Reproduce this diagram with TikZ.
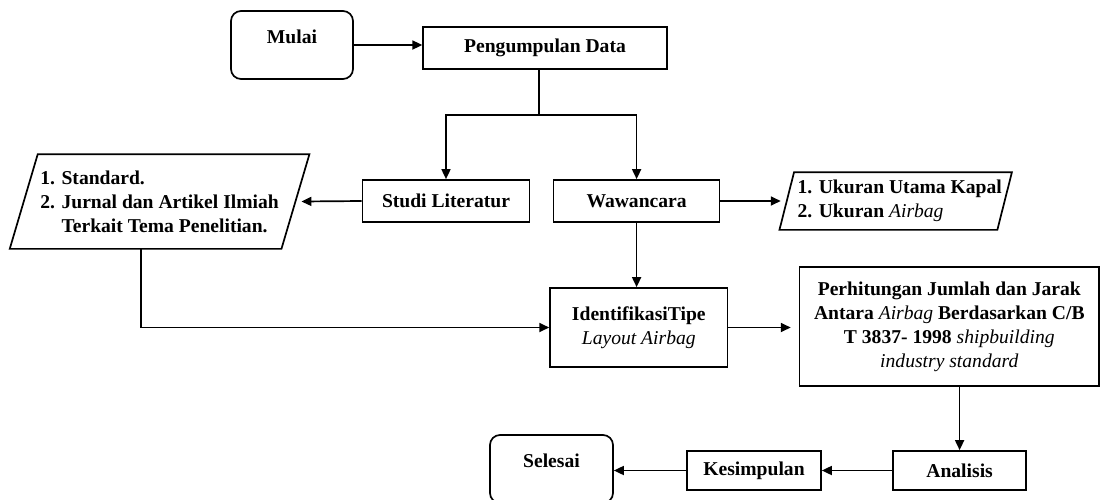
\documentclass[tikz,border=0pt]{standalone}
\usepackage{fontspec}
\setmainfont{Liberation Serif}
\usepackage{tikz}
\usetikzlibrary{arrows.meta}
\usetikzlibrary{positioning}
\newcommand{\itx}[1]{\textmd{\textit{#1}}}
\newcommand{\jajar}[2]{\draw ([xshift=#2]#1.north west) -- ([xshift=#2]#1.north east)
  -- ([xshift=-#2]#1.south east) -- ([xshift=-#2]#1.south west) -- cycle;}

\begin{document}
\begin{tikzpicture}[x=0.5pt,y=-0.5pt,line width=0.85pt,
    font=\bfseries\fontsize{9.8}{12}\selectfont,
    arr/.style={-{Triangle[length=5pt,width=4.5pt]}},
    terminal/.style={draw,rounded corners=5pt,minimum height=34pt,text height=7pt,text depth=9pt},
    proses/.style={draw,rectangle,align=center,inner sep=2pt},
    io/.style={rectangle,align=left,inner sep=1pt}]
  \useasboundingbox (0,0) rectangle (1105,499);

  \node[terminal,minimum width=61pt]                      (mulai)    at (292,45)      {Mulai};
  \node[proses,minimum width=121.8pt,minimum height=21pt] (data)     at (545,48)      {Pengumpulan Data};
  \node[proses,minimum width=83.5pt,minimum height=21pt]  (studi)    at (446,201)     {Studi Literatur};
  \node[proses,minimum width=83pt,minimum height=21pt]    (wawan)    at (636.6,201)   {Wawancara};
  \node[io,minimum width=135pt,minimum height=46.5pt]     (lit)      at (159.6,201.5)
       {1. Standard.\\2. Jurnal dan Artikel Ilmiah\\\phantom{2. }Terkait Tema Penelitian.};
  \node[io,minimum width=104.7pt,minimum height=28pt]     (ukuran)   at (895.7,201)
       {\hspace*{4pt}1. Ukuran Utama Kapal\\\hspace*{4pt}2. Ukuran \itx{Airbag}};
  \node[proses,minimum width=88.7pt,minimum height=39.5pt] (ident)   at (638.8,327.5)
       {IdentifikasiTipe\\\itx{Layout Airbag}};
  \node[proses,minimum width=149.7pt,minimum height=59.5pt] (hitung) at (949.3,326.5)
       {Perhitungan Jumlah dan Jarak\\Antara \itx{Airbag} Berdasarkan C/B\\T 3837- 1998 \itx{shipbuilding}\\\itx{industry standard}};
  \node[proses,minimum width=66.7pt,minimum height=19.5pt] (analisis) at (959.6,470.5) {Analisis};
  \node[proses,minimum width=67pt,minimum height=19.5pt]   (simpul)   at (754,470.5)   {Kesimpulan};
  \node[terminal,minimum width=61.5pt]                     (selesai)  at (551.5,469)   {Selesai};

  \jajar{lit}{7pt}
  \jajar{ukuran}{3.65pt}

  \coordinate (split) at (539.3,115);

  \draw[arr] (mulai.east) -- (mulai.east -| data.west);
  \draw (split |- data.south) -- (split);
  \draw[arr] (split) -| (studi.north);
  \draw[arr] (split) -| (wawan.north);
  \draw[arr] (studi.west) -- ([xshift=3pt]lit.east);
  \draw[arr] (wawan.east) -- ([xshift=-3pt]wawan.east -| ukuran.west);
  \draw[arr] (wawan.south) -- (wawan.south |- ident.north);
  \draw[arr] ([xshift=-9.3pt]lit.south) |- (ident.west);
  \draw[arr] (ident.east) -- ([xshift=-4pt]ident.east -| hitung.west);
  \draw[arr] (analisis.north |- hitung.south) -- (analisis.north);
  \draw[arr] (analisis.west) -- (simpul.east);
  \draw[arr] (simpul.west) -- (simpul.west -| selesai.east);
\end{tikzpicture}
\end{document}
